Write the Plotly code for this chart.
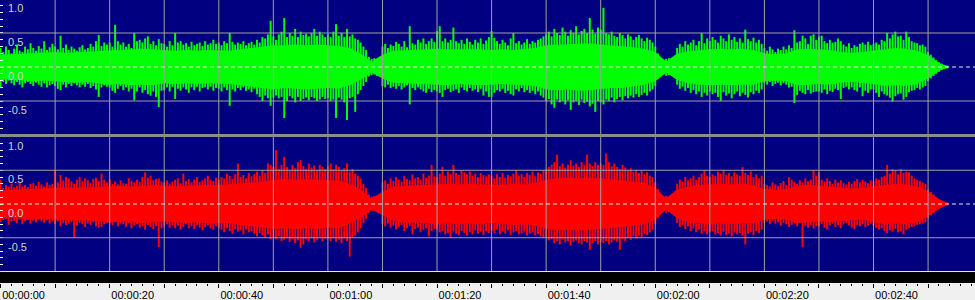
import plotly.graph_objects as go

# ---------------- data (amplitudes in hundredths of full scale) ----------------
PEAK_STEP = 0.5   # seconds between peak samples
BODY_STEP = 2.0   # seconds between body-envelope samples

green_peak_hi = [
    28,22,30,25,20,27,33,24,22,30,26,35,28,24,31,27,38,25,29,34,
    30,26,46,28,33,25,30,27,24,29,32,26,28,34,30,38,47,31,36,33,
    36,30,62,38,33,36,30,34,28,50,38,40,36,42,45,34,38,32,41,35,
    34,30,38,32,50,36,38,33,35,30,37,32,34,36,31,38,33,35,40,34,
    36,32,38,35,50,37,33,36,34,38,32,35,37,33,40,36,44,42,48,68,
    45,40,48,52,72,44,50,46,56,44,52,47,49,45,50,56,46,52,48,44,
    48,44,52,63,46,50,44,56,45,48,42,40,36,30,25,15,12,13,11,14,
    30,34,28,33,31,37,34,30,38,29,60,35,33,40,36,42,34,38,42,37,
    53,60,38,42,36,40,58,38,35,40,34,42,37,33,40,36,42,34,39,44,
    53,43,38,34,40,36,32,42,50,35,38,33,36,41,34,38,36,40,42,45,
    48,52,45,56,50,47,58,52,46,54,50,60,48,53,56,50,72,55,49,58,
    55,87,50,48,52,46,44,50,47,42,48,45,40,44,47,42,38,43,40,36,
    30,20,13,11,12,13,12,11,28,34,30,38,33,36,40,32,38,50,35,42,
    38,44,40,36,46,42,38,48,40,44,37,42,36,55,41,38,43,36,40,34,
    28,24,30,26,22,27,25,30,26,32,28,54,36,38,46,42,34,46,48,40,
    45,46,38,35,40,36,37,42,38,33,30,35,28,32,30,34,36,33,37,32,
    34,36,33,40,38,50,42,48,52,45,46,40,52,44,38,36,35,32,33,30,
    22,18,14,10,7,5,3,2,
]
green_peak_lo = [
    -30,-22,-25,-20,-24,-27,-22,-26,-30,-24,-22,-25,-28,-23,-26,-29,-24,-30,-27,-25,
    -28,-32,-34,-26,-30,-25,-28,-24,-27,-30,-26,-29,-25,-31,-28,-33,-44,-30,-27,-29,
    -30,-35,-38,-32,-28,-34,-30,-36,-32,-49,-36,-30,-38,-34,-40,-42,-36,-44,-59,-35,
    -34,-30,-36,-29,-47,-32,-35,-30,-33,-38,-30,-34,-29,-36,-31,-30,-33,-29,-35,-31,
    -32,-36,-30,-34,-57,-33,-36,-31,-34,-30,-35,-33,-37,-32,-40,-44,-50,-42,-46,-57,
    -45,-42,-46,-44,-75,-50,-43,-46,-52,-44,-50,-47,-45,-49,-44,-46,-50,-48,-44,-47,
    -46,-50,-48,-75,-45,-48,-52,-78,-46,-44,-66,-40,-34,-28,-22,-14,-12,-11,-13,-12,
    -28,-30,-26,-31,-29,-32,-28,-33,-30,-27,-55,-31,-34,-30,-33,-36,-38,-32,-37,-34,
    -36,-38,-44,-34,-32,-37,-35,-33,-38,-30,-34,-36,-31,-35,-33,-37,-32,-42,-36,-44,
    -44,-38,-34,-36,-32,-38,-35,-40,-42,-33,-36,-31,-37,-34,-38,-35,-40,-36,-42,-45,
    -50,-47,-55,-60,-48,-52,-50,-55,-49,-63,-52,-50,-56,-48,-53,-51,-58,-54,-66,-50,
    -52,-55,-48,-50,-45,-52,-47,-44,-49,-43,-46,-42,-45,-40,-44,-41,-38,-42,-36,-33,
    -28,-18,-12,-11,-13,-12,-11,-13,-26,-32,-29,-35,-31,-38,-34,-40,-36,-44,-38,-42,
    -36,-40,-38,-44,-50,-37,-42,-39,-46,-40,-36,-43,-38,-41,-45,-37,-40,-35,-38,-33,
    -24,-26,-22,-28,-25,-23,-27,-24,-26,-30,-29,-53,-41,-35,-38,-40,-34,-39,-37,-36,
    -36,-38,-33,-40,-35,-37,-32,-34,-47,-31,-29,-33,-30,-34,-36,-30,-43,-35,-38,-33,
    -33,-38,-44,-36,-40,-42,-45,-51,-43,-40,-39,-48,-44,-37,-35,-34,-31,-33,-30,-28,
    -21,-17,-13,-10,-7,-4,-3,-2,
]
green_body_hi = [
    18,19,20,20,21, 22,21,22,23,24, 25,26,26,27,26, 25,24,25,24,25,
    25,24,26,28,30, 32,32,33,32,33, 32,31,28,20,8, 18,24,25,26,27,
    27,26,26,27,26, 25,26,25,26,28, 32,33,34,34,35, 33,32,30,29,27,
    22,8,20,23,25, 26,27,26,27,25, 20,19,20,26,27, 26,25,22,21,22,
    24,27,28,27,24, 18,6,0,
]
green_body_lo = [
    -19,-18,-20,-21,-20, -21,-22,-23,-22,-24, -26,-25,-27,-26,-27, -24,-25,-24,-25,-24,
    -24,-25,-27,-29,-31, -33,-31,-32,-33,-32, -31,-32,-27,-19,-8, -17,-23,-24,-25,-26,
    -26,-27,-25,-26,-27, -26,-25,-26,-27,-28, -33,-34,-33,-35,-34, -32,-31,-31,-28,-26,
    -21,-8,-19,-24,-26, -27,-26,-27,-26,-26, -21,-20,-21,-27,-26, -25,-26,-23,-22,-23,
    -25,-28,-27,-28,-25, -17,-6,0,
]

red_peak_hi = [
    36,24,28,26,30,25,27,31,26,28,25,30,31,27,33,29,26,32,28,30,
    50,32,43,35,40,38,33,30,36,40,34,38,35,31,37,39,34,45,36,32,
    37,30,33,29,35,31,30,38,34,32,36,33,40,47,39,42,35,37,38,33,
    32,35,30,33,36,38,31,45,34,37,32,36,40,33,35,38,42,36,34,39,
    36,40,38,45,42,37,44,60,40,43,38,46,41,44,48,42,50,46,60,58,
    55,80,52,58,70,55,50,58,53,62,65,56,52,60,54,57,50,58,55,52,
    56,60,52,58,55,50,53,60,48,52,45,42,38,30,24,14,11,12,10,13,
    32,35,30,38,34,40,36,33,42,37,35,44,38,40,36,45,39,42,58,41,
    40,45,55,42,48,44,58,46,43,50,47,44,48,42,45,40,46,43,41,44,
    42,38,44,40,46,39,43,41,45,50,42,44,40,46,43,48,41,47,45,50,
    52,55,58,62,73,56,60,54,58,65,57,60,55,62,58,73,60,56,62,58,
    60,58,75,62,56,60,55,52,58,54,50,53,48,50,46,49,44,47,42,40,
    32,22,13,11,12,11,13,12,30,36,33,40,35,38,42,36,40,45,50,42,
    40,44,42,48,45,50,43,46,41,47,44,42,55,46,43,48,40,44,38,42,
    30,28,26,32,29,27,31,34,28,40,36,33,30,35,32,38,34,36,50,42,
    47,36,33,38,34,30,36,32,35,31,29,33,30,34,37,32,36,33,31,35,
    34,38,36,40,42,58,45,52,50,44,52,46,48,47,42,38,36,34,32,30,
    22,18,14,10,7,5,3,2,
]
red_peak_lo = [
    -27,-24,-22,-31,-26,-25,-28,-23,-30,-26,-24,-29,-25,-27,-23,-26,-28,-24,-29,-25,
    -30,-26,-33,-28,-31,-29,-27,-50,-32,-28,-30,-34,-29,-31,-27,-33,-35,-34,-30,-28,
    -28,-31,-27,-33,-29,-30,-34,-28,-36,-32,-30,-35,-33,-38,-31,-34,-37,-33,-64,-36,
    -33,-30,-35,-31,-36,-32,-38,-34,-30,-36,-33,-37,-31,-35,-39,-34,-32,-36,-38,-33,
    -35,-38,-42,-36,-40,-44,-37,-41,-39,-45,-38,-42,-40,-44,-48,-43,-46,-50,-45,-52,
    -50,-52,-48,-55,-53,-50,-56,-52,-58,-54,-65,-60,-52,-55,-50,-57,-53,-49,-55,-51,
    -52,-55,-50,-56,-53,-58,-51,-55,-78,-50,-47,-42,-36,-28,-22,-13,-11,-10,-12,-11,
    -30,-33,-29,-35,-32,-38,-34,-31,-40,-36,-33,-45,-37,-35,-42,-38,-36,-48,-40,-37,
    -38,-42,-40,-45,-43,-50,-41,-44,-46,-40,-43,-47,-42,-45,-39,-44,-41,-46,-40,-43,
    -40,-43,-38,-45,-41,-44,-39,-46,-42,-40,-45,-43,-41,-47,-44,-42,-46,-45,-48,-50,
    -50,-54,-52,-58,-55,-60,-53,-57,-55,-62,-56,-54,-58,-60,-55,-57,-68,-58,-55,-60,
    -56,-58,-55,-60,-57,-54,-56,-68,-52,-55,-50,-53,-48,-51,-47,-49,-44,-46,-42,-38,
    -30,-20,-12,-11,-13,-12,-11,-12,-28,-34,-31,-37,-33,-40,-36,-42,-38,-44,-40,-45,
    -42,-40,-45,-43,-47,-41,-46,-44,-48,-42,-45,-43,-47,-60,-44,-42,-46,-40,-43,-38,
    -28,-26,-30,-25,-29,-27,-32,-28,-30,-34,-31,-29,-33,-28,-64,-32,-35,-31,-36,-33,
    -33,-30,-35,-38,-32,-29,-34,-31,-36,-30,-28,-32,-35,-37,-31,-33,-30,-34,-32,-29,
    -32,-35,-38,-36,-40,-43,-39,-41,-37,-42,-40,-45,-38,-36,-34,-33,-31,-30,-29,-27,
    -21,-17,-13,-10,-7,-4,-3,-2,
]
red_body_hi = [
    20,21,22,22,23, 24,25,24,25,26, 26,27,26,27,28, 27,26,27,28,28,
    28,29,30,31,33, 36,37,36,37,36, 36,35,30,22,8, 18,26,27,28,28,
    29,30,29,30,29, 29,28,30,29,31, 36,38,39,38,39, 38,37,35,33,31,
    24,8,22,26,28, 29,30,29,30,28, 22,21,22,27,28, 27,26,24,23,24,
    26,29,30,29,26, 19,7,0,
]
red_body_lo = [
    -21,-20,-22,-23,-22, -23,-24,-25,-24,-26, -27,-26,-27,-28,-27, -26,-27,-28,-27,-29,
    -29,-28,-31,-32,-34, -37,-36,-37,-36,-37, -35,-36,-29,-21,-8, -17,-25,-28,-27,-29,
    -30,-29,-30,-29,-30, -28,-29,-31,-30,-32, -37,-39,-38,-39,-38, -37,-36,-34,-32,-30,
    -23,-8,-21,-27,-29, -30,-29,-30,-29,-29, -23,-22,-23,-28,-27, -26,-27,-25,-24,-23,
    -27,-30,-29,-30,-27, -18,-7,0,
]

time_tick_seconds = [0, 20, 40, 60, 80, 100, 120, 140, 160]
time_tick_labels = ["00:00:00", "00:00:20", "00:00:40", "00:01:00", "00:01:20",
                    "00:01:40", "00:02:00", "00:02:20", "00:02:40"]
grid_seconds = list(range(10, 180, 10))
amp_labels = [1.0, 0.5, 0.0, -0.5]

# ---------------- style ----------------
X_RANGE = [-0.1, 178.6]
BG = "#000080"
GRID = "#a0a0a0"
FONT = "Liberation Sans, Arial, sans-serif"

TOP_DOM = [1 - 134 / 300, 1.0]
BOT_DOM = [1 - 271 / 300, 1 - 137 / 300]
RULER_DOM = [1 - 283 / 300, 1 - 272 / 300]
TOP_RANGE = [-0.985, 0.985]
BOT_RANGE = [-0.993, 0.993]


def spikes(hi, lo):
    xs, ys = [], []
    for i, (h, l) in enumerate(zip(hi, lo)):
        t = i * PEAK_STEP
        xs += [t, t, None]
        ys += [l / 100.0, h / 100.0, None]
    return xs, ys


def body_x(arr):
    return [i * BODY_STEP for i in range(len(arr))]


fig = go.Figure()
channels = [
    ("x", "y", "#00ff00", green_peak_hi, green_peak_lo, green_body_hi, green_body_lo),
    ("x2", "y2", "#ff0000", red_peak_hi, red_peak_lo, red_body_hi, red_body_lo),
]
for xa, ya, col, phi, plo, bhi, blo in channels:
    fig.add_trace(go.Scatter(x=body_x(blo), y=[v / 100 for v in blo], mode="lines",
                             line=dict(width=0, color=col), xaxis=xa, yaxis=ya,
                             hoverinfo="skip"))
    fig.add_trace(go.Scatter(x=body_x(bhi), y=[v / 100 for v in bhi], mode="lines",
                             line=dict(width=0, color=col), fill="tonexty", fillcolor=col,
                             xaxis=xa, yaxis=ya, hoverinfo="skip"))
    sx, sy = spikes(phi, plo)
    fig.add_trace(go.Scatter(x=sx, y=sy, mode="lines", line=dict(width=2.0, color=col),
                             xaxis=xa, yaxis=ya, hoverinfo="skip", connectgaps=False))

# dummy trace so the ruler axis is drawn
fig.add_trace(go.Scatter(x=[None], y=[None], xaxis="x3", yaxis="y3", hoverinfo="skip"))

yaxis_common = dict(zeroline=False, showgrid=False, showticklabels=False, ticks="inside",
                    ticklen=3, tickcolor="#ffffff", tickwidth=1, tick0=0, dtick=0.1,
                    showline=False, fixedrange=True)
xaxis_common = dict(range=X_RANGE, zeroline=False, showgrid=False, showticklabels=False,
                    ticks="", showline=False, fixedrange=True)

ruler_text = []
for s in range(0, 180, 10):
    ruler_text.append(time_tick_labels[time_tick_seconds.index(s)] if s in time_tick_seconds else "")

fig.update_layout(
    width=975, height=300, margin=dict(l=0, r=0, t=0, b=0, pad=0),
    paper_bgcolor="#f0f0f0", plot_bgcolor=BG, showlegend=False,
    xaxis=dict(domain=[0, 1], anchor="y", **xaxis_common),
    yaxis=dict(domain=TOP_DOM, anchor="x", range=TOP_RANGE, **yaxis_common),
    xaxis2=dict(domain=[0, 1], anchor="y2", **xaxis_common),
    yaxis2=dict(domain=BOT_DOM, anchor="x2", range=BOT_RANGE, **yaxis_common),
    xaxis3=dict(domain=[0, 1], anchor="y3", range=X_RANGE, zeroline=False, showgrid=False,
                showline=False, ticks="outside", ticklen=4, tickwidth=1, tickcolor="#000000",
                tickmode="array", tickvals=list(range(0, 180, 10)), ticktext=ruler_text,
                tickfont=dict(family=FONT, size=11, color="#000000"),
                ticklabelshift=23, ticklabelstandoff=-2,
                minor=dict(ticks="outside", ticklen=2, tickcolor="#000000", dtick=2, tick0=0,
                           showgrid=False),
                fixedrange=True),
    yaxis3=dict(domain=RULER_DOM, anchor="x3", range=[0, 1], showticklabels=False,
                showgrid=False, zeroline=False, ticks="", fixedrange=True),
)

shapes = []
for xr, yr in [("x", "y"), ("x2", "y2")]:
    for s in grid_seconds:
        shapes.append(dict(type="line", xref=xr, yref=yr + " domain", x0=s, x1=s, y0=0, y1=1,
                           line=dict(color=GRID, width=1), layer="above"))
    for v in (0.5, -0.5):
        shapes.append(dict(type="line", xref=xr + " domain", yref=yr, x0=0, x1=1, y0=v, y1=v,
                           line=dict(color=GRID, width=1), layer="above"))
    shapes.append(dict(type="line", xref=xr + " domain", yref=yr, x0=0, x1=1, y0=0, y1=0,
                       line=dict(color="#e6e6e6", width=1, dash="4px,3px"), layer="above"))

# panel separator, white rule and black bar above the ruler
shapes.append(dict(type="rect", xref="paper", yref="paper", x0=0, x1=1,
                   y0=1 - 137 / 300, y1=1 - 134 / 300, fillcolor="#8c8c8c",
                   line=dict(width=0), layer="above"))
shapes.append(dict(type="rect", xref="paper", yref="paper", x0=0, x1=1,
                   y0=1 - 272 / 300, y1=1 - 271 / 300, fillcolor="#e8e8e8",
                   line=dict(width=0), layer="above"))
shapes.append(dict(type="rect", xref="paper", yref="paper", x0=0, x1=1,
                   y0=RULER_DOM[0], y1=RULER_DOM[1], fillcolor="#000000",
                   line=dict(width=0), layer="above"))
fig.update_layout(shapes=shapes)

annotations = []
for dom, rng in ((TOP_DOM, TOP_RANGE), (BOT_DOM, BOT_RANGE)):
    for v in amp_labels:
        yp = dom[0] + (v - rng[0]) / (rng[1] - rng[0]) * (dom[1] - dom[0])
        annotations.append(dict(xref="paper", yref="paper", x=6 / 975, y=yp, xanchor="left",
                                yanchor="top", yshift=-1, showarrow=False,
                                text=f"{v:.1f}",
                                font=dict(family=FONT, size=11, color="#d0d0d0")))
fig.update_layout(annotations=annotations)

fig.write_html("out.html")
